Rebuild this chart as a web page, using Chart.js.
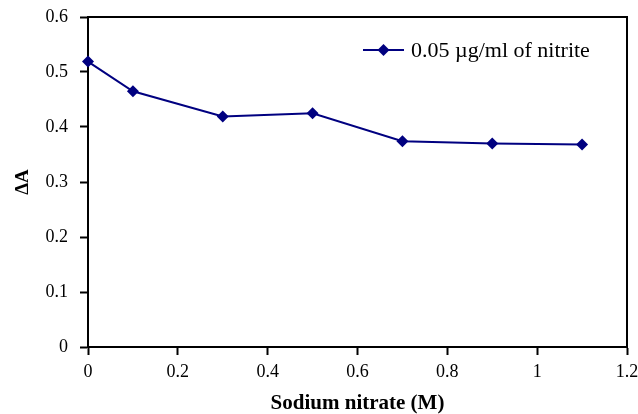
<!DOCTYPE html>
<html>
<head>
<meta charset="utf-8">
<script src="https://cdn.jsdelivr.net/npm/chart.js@4/dist/chart.umd.min.js"></script>
<style>
html,body{margin:0;padding:0;background:#fff;}
#wrap{width:638px;height:414px;position:relative;}
</style>
</head>
<body>
<div id="wrap"><canvas id="c" width="638" height="414"></canvas></div>
<script>
const nitrateM = [0, 0.1, 0.3, 0.5, 0.7, 0.9, 1.1];
const deltaA = [0.519, 0.465, 0.419, 0.425, 0.374, 0.370, 0.368];
const seriesLabel = '0.05 µg/ml of nitrite';
const xTitle = 'Sodium nitrate (M)';
const yTitle = 'ΔA';
const xTicks = [0, 0.2, 0.4, 0.6, 0.8, 1, 1.2];
const yTicks = [0, 0.1, 0.2, 0.3, 0.4, 0.5, 0.6];

const NAVY = '#000080';
const FONT = "'Liberation Serif', 'Times New Roman', serif";

const framePlugin = {
  id: 'frame',
  afterDraw(chart) {
    const {ctx, chartArea: a} = chart;
    ctx.save();
    ctx.strokeStyle = '#000';
    ctx.lineWidth = 2;
    ctx.beginPath();
    ctx.moveTo(a.left, a.top);
    ctx.lineTo(a.right, a.top);
    ctx.lineTo(a.right, a.bottom);
    ctx.stroke();
    // legend inside plot
    const y = a.top + 33;
    const x0 = a.right - 264;
    ctx.strokeStyle = NAVY;
    ctx.lineWidth = 2;
    ctx.beginPath();
    ctx.moveTo(x0, y);
    ctx.lineTo(x0 + 41, y);
    ctx.stroke();
    const cx = x0 + 20.5, r = 6;
    ctx.fillStyle = NAVY;
    ctx.beginPath();
    ctx.moveTo(cx, y - r); ctx.lineTo(cx + r, y); ctx.lineTo(cx, y + r); ctx.lineTo(cx - r, y);
    ctx.closePath(); ctx.fill();
    ctx.fillStyle = '#000';
    ctx.font = "22px " + FONT;
    ctx.textBaseline = 'middle';
    ctx.textAlign = 'left';
    ctx.fillText(seriesLabel, x0 + 48, y + 1);
    ctx.restore();
  }
};

new Chart(document.getElementById('c'), {
  type: 'line',
  data: {
    datasets: [{
      label: seriesLabel,
      data: nitrateM.map((x, i) => ({x: x, y: deltaA[i]})),
      borderColor: NAVY,
      backgroundColor: NAVY,
      borderWidth: 2,
      pointStyle: 'rectRot',
      pointRadius: 6,
      pointHoverRadius: 6,
      pointBorderWidth: 0,
      tension: 0,
      clip: false
    }]
  },
  options: {
    responsive: false,
    animation: false,
    events: [],
    layout: {padding: {left: 0, top: 17, right: 11, bottom: 0}},
    plugins: {legend: {display: false}, tooltip: {enabled: false}},
    scales: {
      x: {
        type: 'linear',
        min: 0, max: 1.2,
        afterBuildTicks: s => { s.ticks = xTicks.map(v => ({value: v})); },
        afterFit: s => { s.height = 67; s.paddingLeft = 0; s.paddingRight = 0; },
        grid: {drawOnChartArea: false, drawTicks: true, tickLength: 8, tickWidth: 2, tickColor: '#000'},
        border: {display: true, color: '#000', width: 2},
        ticks: {color: '#000', font: {family: FONT, size: 18}, padding: 6, maxRotation: 0,
                callback: v => String(v)},
        title: {display: true, text: xTitle, color: '#000',
                font: {family: FONT, size: 21, weight: 'bold', lineHeight: 1},
                padding: {top: 0, bottom: 0}}
      },
      y: {
        type: 'linear',
        min: 0, max: 0.6,
        afterBuildTicks: s => { s.ticks = yTicks.map(v => ({value: v})); },
        afterFit: s => { s.width = 88; s.paddingTop = 0; s.paddingBottom = 0; },
        grid: {drawOnChartArea: false, drawTicks: true, tickLength: 8, tickWidth: 2, tickColor: '#000'},
        border: {display: true, color: '#000', width: 2},
        ticks: {color: '#000', font: {family: FONT, size: 18}, padding: 12,
                callback: v => String(v)},
        title: {display: true, text: yTitle, color: '#000',
                font: {family: FONT, size: 19, weight: 'bold', lineHeight: 1},
                padding: {top: 14, bottom: 0}}
      }
    }
  },
  plugins: [framePlugin]
});
</script>
</body>
</html>
